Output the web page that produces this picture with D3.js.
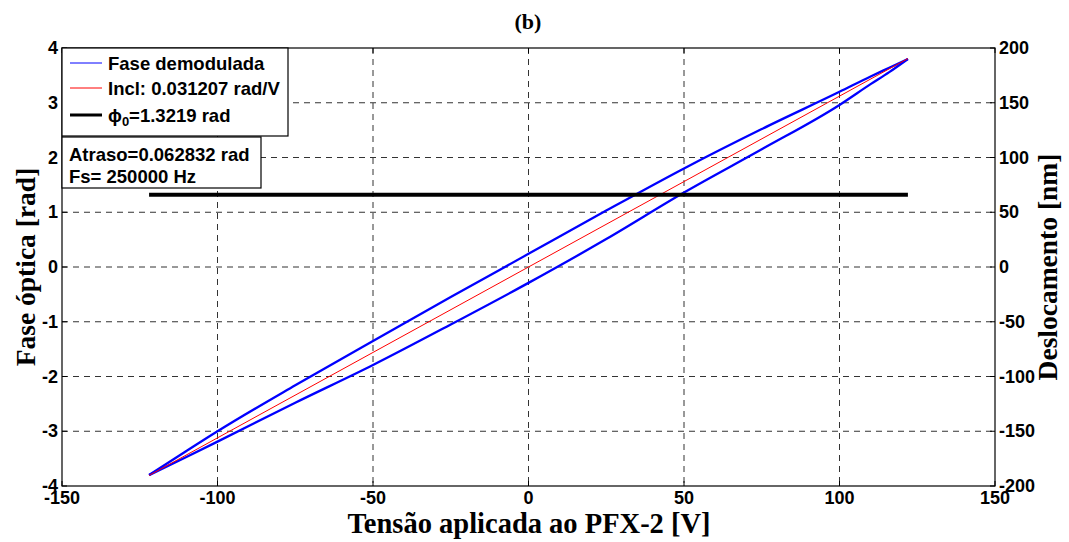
<!DOCTYPE html>
<html>
<head>
<meta charset="utf-8">
<script src="https://cdn.jsdelivr.net/npm/d3@7"></script>
<style>
  body { margin: 0; background: #fff; }
  svg { display: block; }
  .tick-lbl { font-family: "Liberation Sans", Arial, sans-serif; font-weight: 700; font-size: 18px; fill: #000; }
  .serif-lbl { font-family: "Liberation Serif", "Times New Roman", serif; font-weight: 700; fill: #000; }
  .leg { font-family: "Liberation Sans", Arial, sans-serif; font-weight: 700; font-size: 18.5px; fill: #000; }
</style>
</head>
<body>
<svg id="chart" width="1069" height="542"></svg>
<script>
// Axis ticks
const xTicks = [-150, -100, -50, 0, 50, 100, 150];
const yTicks = [-4, -3, -2, -1, 0, 1, 2, 3, 4];
const y2Ticks = [-200, -150, -100, -50, 0, 50, 100, 150, 200];

// Demodulated phase loop: falling branch (upper) and rising branch (lower), [V, rad]
const upperBranch = [
  [-122, -3.80], [-110, -3.36], [-100, -3.00], [-75, -2.16], [-50, -1.35],
  [-25, -0.55], [0, 0.24], [25, 1.03], [50, 1.80], [75, 2.52],
  [100, 3.20], [110, 3.48], [116, 3.64], [122, 3.80]
];
const lowerBranch = [
  [-122, -3.80], [-110, -3.47], [-100, -3.19], [-75, -2.48], [-50, -1.79],
  [-25, -1.05], [0, -0.29], [25, 0.51], [50, 1.36], [75, 2.15],
  [100, 2.96], [110, 3.34], [116, 3.56], [122, 3.80]
];

// Fitted slope, working point and drive range
const slope = 0.031207;       // rad/V
const phi0 = 1.3219;          // rad
const vRange = [-122, 122];   // V

const legendItems = [
  { label: "Fase demodulada", color: "#0000ff", width: 1 },
  { label: "Incl: 0.031207 rad/V", color: "#ff0000", width: 1 },
  { label: "phi0", color: "#000000", width: 3 }
];
const infoLines = ["Atraso=0.062832 rad", "Fs= 250000 Hz"];

const svg = d3.select("#chart");
const L = 62, R = 995, T = 48, B = 486;

const x = d3.scaleLinear().domain([-150, 150]).range([L, R]);
const y = d3.scaleLinear().domain([-4, 4]).range([B, T]);
const y2 = d3.scaleLinear().domain([-200, 200]).range([B, T]);

// Grid (dashed)
const grid = svg.append("g").attr("stroke", "#333").attr("stroke-width", 1).attr("stroke-dasharray", "6,5");
xTicks.slice(1, -1).forEach(t => {
  grid.append("line").attr("x1", x(t)).attr("x2", x(t)).attr("y1", T).attr("y2", B);
});
yTicks.slice(1, -1).forEach(t => {
  grid.append("line").attr("x1", L).attr("x2", R).attr("y1", y(t)).attr("y2", y(t));
});

// Data
const plot = svg.append("g");
const line = d3.line().x(d => x(d[0])).y(d => y(d[1])).curve(d3.curveMonotoneX);

plot.append("path").datum(upperBranch).attr("d", line)
  .attr("fill", "none").attr("stroke", "#0000ff").attr("stroke-width", 2.3);
plot.append("path").datum(lowerBranch).attr("d", line)
  .attr("fill", "none").attr("stroke", "#0000ff").attr("stroke-width", 2.3);

plot.append("line")
  .attr("x1", x(vRange[0])).attr("y1", y(slope * vRange[0]))
  .attr("x2", x(vRange[1])).attr("y2", y(slope * vRange[1]))
  .attr("stroke", "#ff0000").attr("stroke-width", 1);

plot.append("line")
  .attr("x1", x(vRange[0])).attr("y1", y(phi0))
  .attr("x2", x(vRange[1])).attr("y2", y(phi0))
  .attr("stroke", "#000").attr("stroke-width", 4);

// Axes box
svg.append("rect").attr("x", L).attr("y", T).attr("width", R - L).attr("height", B - T)
  .attr("fill", "none").attr("stroke", "#000").attr("stroke-width", 1.2);

const ticks = svg.append("g").attr("stroke", "#000").attr("stroke-width", 1);
xTicks.forEach(t => {
  ticks.append("line").attr("x1", x(t)).attr("x2", x(t)).attr("y1", B).attr("y2", B - 5);
  ticks.append("line").attr("x1", x(t)).attr("x2", x(t)).attr("y1", T).attr("y2", T + 5);
});
yTicks.forEach(t => {
  ticks.append("line").attr("x1", L).attr("x2", L + 5).attr("y1", y(t)).attr("y2", y(t));
});
y2Ticks.forEach(t => {
  ticks.append("line").attr("x1", R).attr("x2", R - 5).attr("y1", y2(t)).attr("y2", y2(t));
});

// Tick labels (plain hyphen minus)
const fmt = v => String(v);
xTicks.forEach(t => {
  svg.append("text").attr("class", "tick-lbl").attr("x", x(t)).attr("y", B + 12)
    .attr("text-anchor", "middle").attr("dominant-baseline", "central").text(fmt(t));
});
yTicks.forEach(t => {
  svg.append("text").attr("class", "tick-lbl").attr("x", L - 4).attr("y", y(t))
    .attr("text-anchor", "end").attr("dominant-baseline", "central").text(fmt(t));
});
y2Ticks.forEach(t => {
  svg.append("text").attr("class", "tick-lbl").attr("x", R + 4).attr("y", y2(t))
    .attr("text-anchor", "start").attr("dominant-baseline", "central").text(fmt(t));
});

// Titles
svg.append("text").attr("class", "serif-lbl").attr("x", 528).attr("y", 29)
  .attr("text-anchor", "middle").attr("font-size", 22).text("(b)");
svg.append("text").attr("class", "serif-lbl").attr("x", 529).attr("y", 533)
  .attr("text-anchor", "middle").attr("font-size", 28.5).text("Tensão aplicada ao PFX-2 [V]");
svg.append("text").attr("class", "serif-lbl")
  .attr("transform", `translate(35,${(T + B) / 2}) rotate(-90)`)
  .attr("text-anchor", "middle").attr("font-size", 27.5).text("Fase óptica [rad]");
svg.append("text").attr("class", "serif-lbl")
  .attr("transform", `translate(1057,${(T + B) / 2}) rotate(-90)`)
  .attr("text-anchor", "middle").attr("font-size", 27.5).text("Deslocamento [nm]");

// Legend
const leg = svg.append("g");
leg.append("rect").attr("x", L).attr("y", T).attr("width", 226).attr("height", 88)
  .attr("fill", "#fff").attr("stroke", "#000").attr("stroke-width", 1.2);
const legY = [63, 88, 115];
legendItems.forEach((it, i) => {
  leg.append("line").attr("x1", 70).attr("x2", 102).attr("y1", legY[i]).attr("y2", legY[i])
    .attr("stroke", it.color).attr("stroke-width", it.width);
  const txt = leg.append("text").attr("class", "leg").attr("x", 108).attr("y", legY[i])
    .attr("dominant-baseline", "central");
  if (it.label === "phi0") {
    txt.append("tspan").text("\u03d5");
    txt.append("tspan").attr("dy", 6).attr("font-size", 13).text("0");
    txt.append("tspan").attr("dy", -6).text("=1.3219 rad");
  } else {
    txt.text(it.label);
  }
});

// Info box
const info = svg.append("g");
info.append("rect").attr("x", L).attr("y", 137).attr("width", 199).attr("height", 51)
  .attr("fill", "#fff").attr("stroke", "#000").attr("stroke-width", 1.2);
infoLines.forEach((s, i) => {
  info.append("text").attr("class", "leg").attr("x", 69).attr("y", 154 + i * 22)
    .attr("dominant-baseline", "central").text(s);
});
</script>
</body>
</html>
